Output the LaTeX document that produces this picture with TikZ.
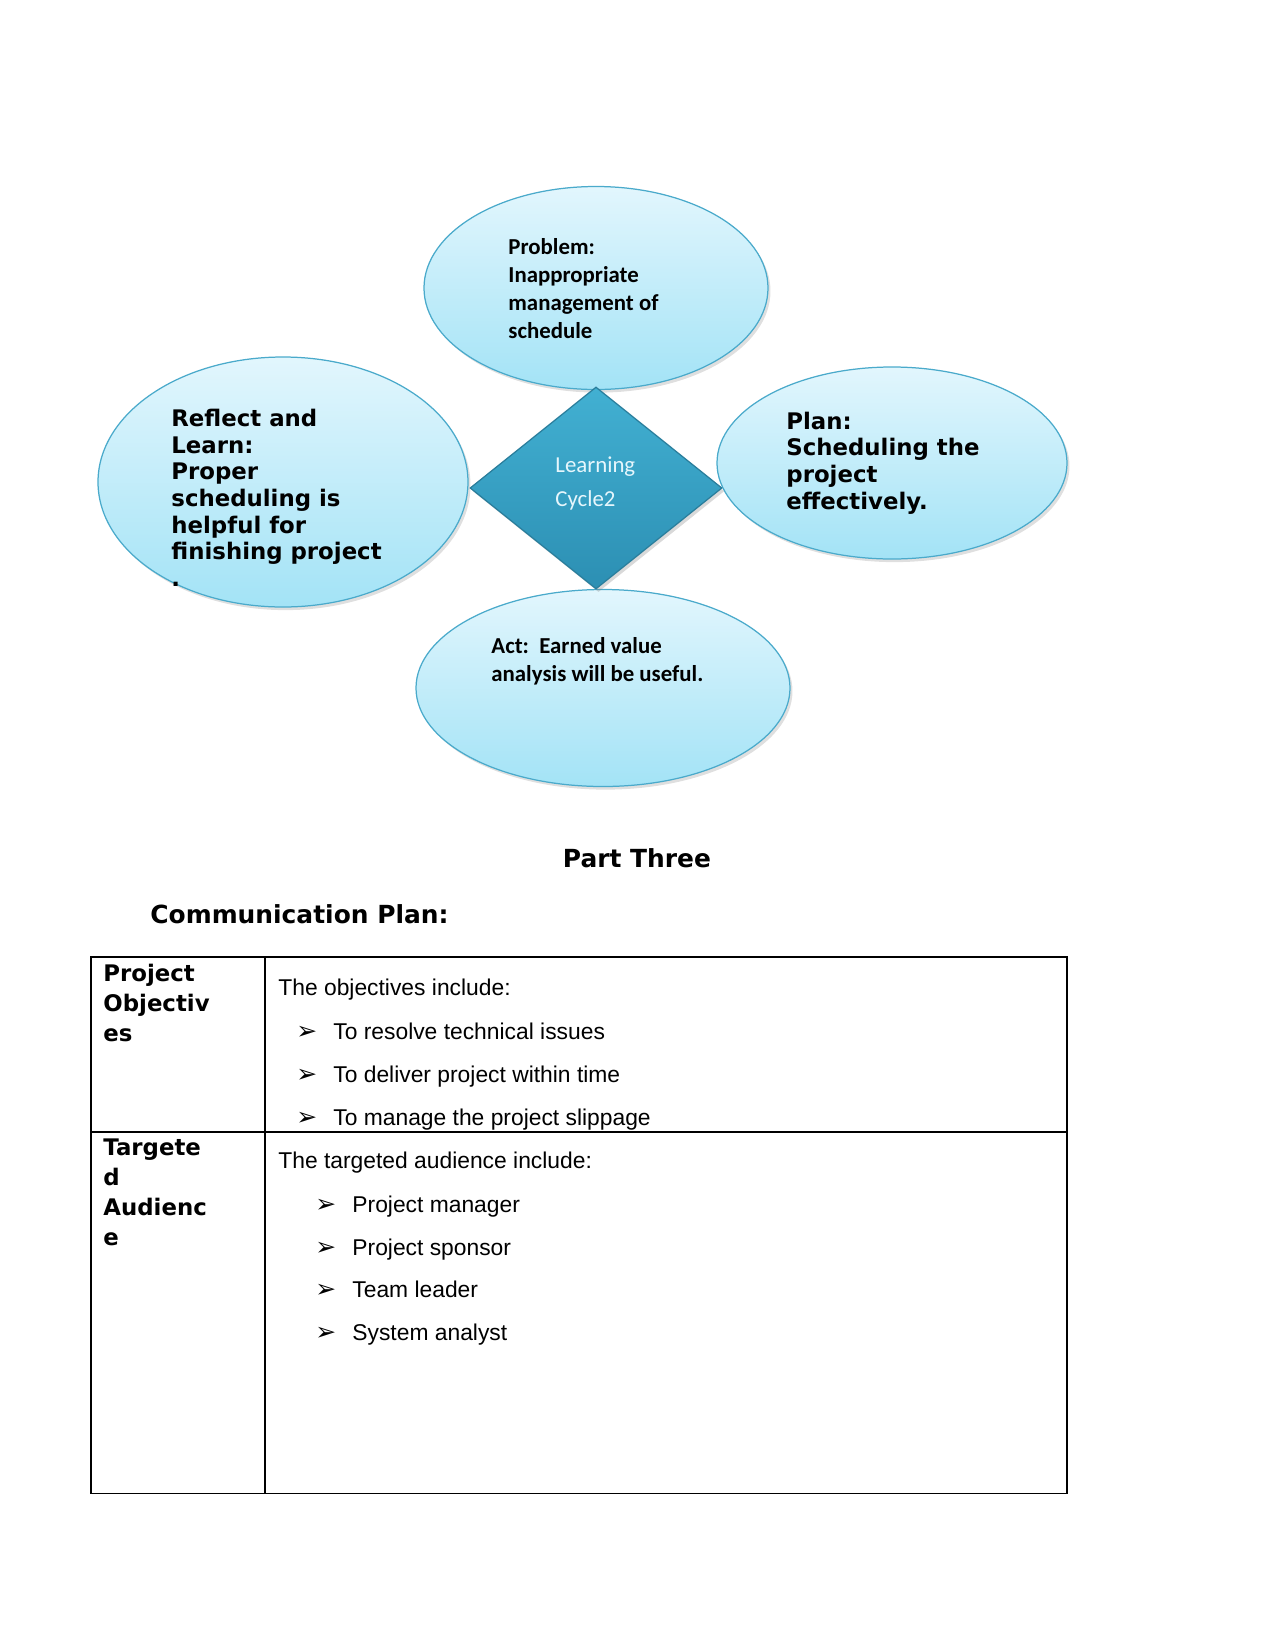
\documentclass[tikz,border=0pt]{standalone}
\usepackage{fontspec}
\setmainfont{Liberation Sans}
\newfontfamily\carlito{Carlito}
\newfontfamily\dejavu{DejaVu Sans}
\usetikzlibrary{shapes.geometric,shadows}

\definecolor{ovaltop}{HTML}{E2F6FD}
\definecolor{ovalbot}{HTML}{A3E3F6}
\definecolor{ovalline}{HTML}{4AAACB}
\definecolor{diatop}{HTML}{42B0D2}
\definecolor{diabot}{HTML}{2C8FB3}
\definecolor{dialine}{HTML}{2A7E9C}
\definecolor{diatext}{HTML}{E6F6FC}
\def\pxl{0.16933mm}

\begin{document}
\begin{tikzpicture}[x=0.16933mm,y=-0.16933mm,
  oval/.style n args={2}{ellipse,draw=ovalline,line width=0.6pt,
    top color=ovaltop,bottom color=ovalbot,inner sep=0pt,
    minimum width=#1*\pxl,minimum height=#2*\pxl,
    drop shadow={shadow xshift=1.2pt,shadow yshift=-1.5pt,opacity=0.25}},
  txt/.style={anchor=base west,inner sep=0pt},
  ovaltxt/.style={txt,font=\carlito\bfseries\fontsize{11}{13}\selectfont},
  ovalwide/.style={txt,font=\dejavu\bfseries\fontsize{11}{13}\selectfont},
  headtxt/.style={txt,font=\dejavu\bfseries\fontsize{11}{13}\selectfont},
  celltxt/.style={txt,font=\fontsize{11}{13}\selectfont},
  bullet/.style={txt,font=\dejavu\fontsize{12}{14}\selectfont}]
  \useasboundingbox (0,0) rectangle (1275,1650);

  % cycle diagram
  \node[oval={344}{203}] (problem) at (596,288) {};
  \node[oval={370}{250}] (reflect) at (283,482) {};
  \node[oval={350}{192}] (plan) at (892,463) {};
  \node[oval={374}{197}] (act) at (603,688) {};
  \node[diamond,draw=dialine,line width=0.6pt,top color=diatop,bottom color=diabot,
    minimum width=252*\pxl,minimum height=202*\pxl,inner sep=0pt,
    drop shadow={shadow xshift=1.2pt,shadow yshift=-1.5pt,opacity=0.3}] (cycle) at (596,488) {};

  \foreach \y/\t [count=\i] in {254/Problem:,282/Inappropriate,310/management of,338/schedule}
    \node[ovaltxt] (prob\i) at (508,\y) {\t};
  \foreach \y/\t [count=\i] in {426/Reflect and,453/Learn:,479/Proper,506/scheduling is,533/helpful for,559/finishing project,586/.}
    \node[ovalwide] (refl\i) at (171,\y) {\t};
  \foreach \y/\t [count=\i] in {429/Plan:,455/Scheduling the,482/project,509/effectively.}
    \node[ovalwide] (plan\i) at (786,\y) {\t};
  \node[ovaltxt] (act1) at (491,653) {Act:\ \ Earned value};
  \node[ovaltxt] (act2) at (491,681) {analysis will be useful.};
  \node[txt,font=\carlito\fontsize{11}{13}\selectfont,text=diatext] (cyc1) at (555,472) {Learning};
  \node[txt,font=\carlito\fontsize{11}{13}\selectfont,text=diatext] (cyc2) at (555,506) {Cycle2};

  % headings
  \node[anchor=base,inner sep=0pt,font=\dejavu\bfseries\fontsize{12}{14}\selectfont] (part) at (637,867) {Part Three};
  \node[txt,font=\dejavu\bfseries\fontsize{12}{14}\selectfont] (comm) at (150,923) {Communication Plan:};

  % table
  \draw[line width=0.5pt] (91,957) rectangle (1067,1493);
  \draw[line width=1.1pt] (91,957) -- (1067,957);
  \draw[line width=0.5pt] (265,957) -- (265,1493);
  \draw[line width=0.5pt] (91,1132) -- (1067,1132);

  \foreach \y/\t [count=\i] in {981/Project,1011/Objectiv,1041/es}
    \node[headtxt] (objh\i) at (103,\y) {\t};
  \foreach \y/\t [count=\i] in {1155/Targete,1185/d,1215/Audienc,1245/e}
    \node[headtxt] (audh\i) at (103,\y) {\t};

  \node[celltxt] (objintro) at (278,995) {The objectives include:};
  \foreach \y/\t [count=\i] in {1039/To resolve technical issues,1082/To deliver project within time,1125/To manage the project slippage}{
    \node[bullet] (objb\i) at (296,\y) {➢};
    \node[celltxt] (obj\i) at (333,\y) {\t};}
  \node[celltxt] (audintro) at (278,1168) {The targeted audience include:};
  \foreach \y/\t [count=\i] in {1212/Project manager,1255/Project sponsor,1297/Team leader,1340/System analyst}{
    \node[bullet] (audb\i) at (315,\y) {➢};
    \node[celltxt] (aud\i) at (352,\y) {\t};}
\end{tikzpicture}
\end{document}
